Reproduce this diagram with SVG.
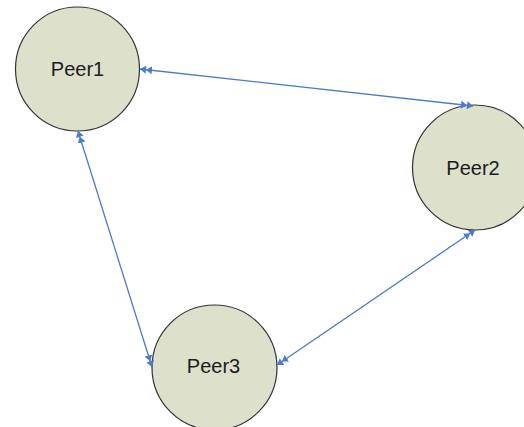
<svg xmlns="http://www.w3.org/2000/svg" width="524" height="427" viewBox="0 0 524 427">
<style>
.node{fill:#dde0cb;stroke:#333;stroke-width:1.2}
.lbl{font-family:"Liberation Sans",Arial,sans-serif;font-size:20px;fill:#1c1c1c;text-anchor:middle}
.edge{stroke:#4a7bcc;stroke-width:1.3;fill:none;marker-start:url(#dbl);marker-end:url(#dbl)}
</style>
<defs>
<marker id="dbl" viewBox="0 0 12 8" refX="12" refY="4" markerWidth="12" markerHeight="8" markerUnits="userSpaceOnUse" orient="auto-start-reverse">
<path d="M0,0 L6,4 L0,8 Z M6,0 L12,4 L6,8 Z" fill="#4a7bcc"/>
</marker>
</defs>
<rect width="524" height="427" fill="#fff"/>
<g id="peer1">
<circle class="node" cx="77.5" cy="69" r="62"/>
<text class="lbl" x="77.5" y="76">Peer1</text>
</g>
<g id="peer2">
<circle class="node" cx="475" cy="167.5" r="62.5"/>
<text class="lbl" x="473" y="175">Peer2</text>
</g>
<g id="peer3">
<circle class="node" cx="214.5" cy="367.5" r="62.5"/>
<text class="lbl" x="213.5" y="373">Peer3</text>
</g>
<g id="connectors">
<line class="edge" x1="140" y1="69" x2="473" y2="106"/>
<line class="edge" x1="78" y1="131" x2="152" y2="367"/>
<line class="edge" x1="475" y1="230" x2="277" y2="365"/>
</g>
</svg>
